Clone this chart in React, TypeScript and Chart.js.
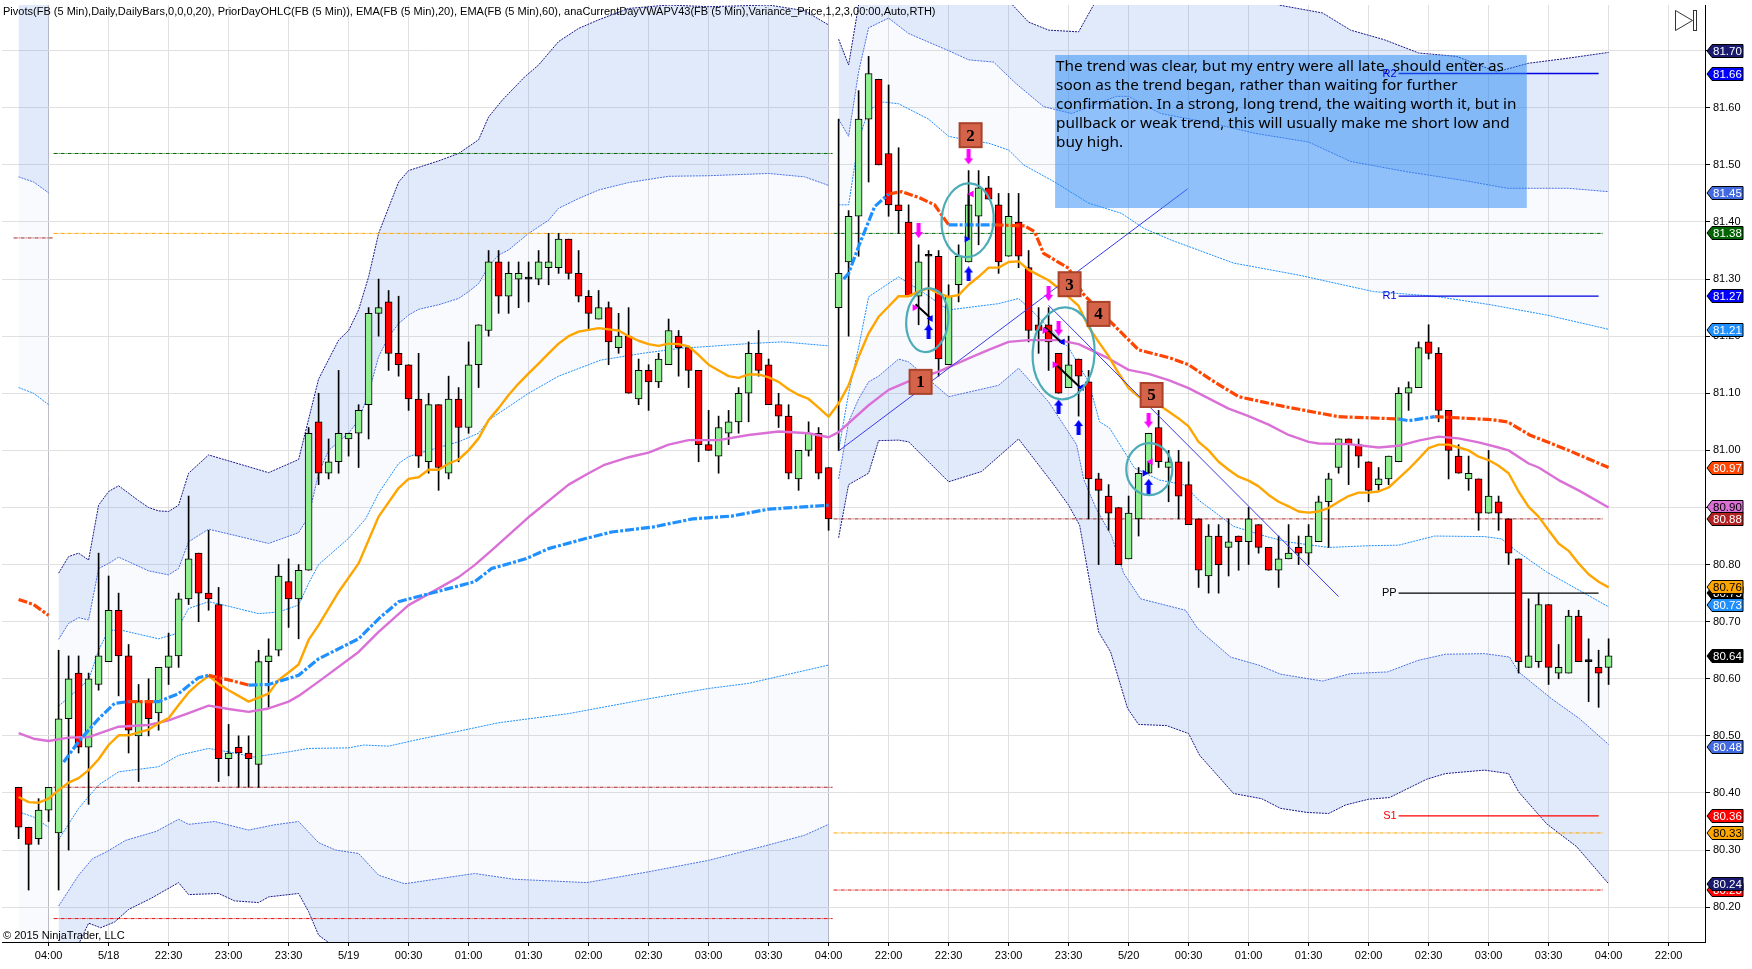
import React, { useEffect, useRef } from "react";
import { Chart, registerables } from "chart.js";

Chart.register(...registerables);

type P = [number, number | null];

const firstBar = -3;
const opens = [80.41,80.34,80.32,80.37,80.33,80.53,80.61,80.48,80.59,80.63,80.72,80.64,80.50,80.56,80.54,80.62,80.64,80.74,80.82,80.75,80.73,80.46,80.48,80.47,80.45,80.63,80.65,80.77,80.74,80.79,81.05,80.96,80.98,81.02,81.03,81.08,81.24,81.26,81.17,81.15,81.09,80.98,81.08,80.96,81.09,81.04,81.15,81.21,81.33,81.27,81.30,81.30,81.30,81.32,81.32,81.37,81.31,81.27,81.23,81.25,81.18,81.20,81.09,81.14,81.12,81.15,81.20,81.18,81.14,81.01,80.99,81.03,81.05,81.10,81.17,81.15,81.08,81.06,80.95,81.00,81.03,80.97,81.25,81.33,81.41,81.58,81.65,81.52,81.43,81.40,81.27,81.34,81.34,81.15,81.29,81.33,81.41,81.46,81.43,81.34,81.40,81.32,81.22,81.22,81.17,81.11,81.16,81.12,80.95,80.92,80.90,80.81,80.88,80.96,81.04,80.97,80.98,80.94,80.88,80.78,80.85,80.83,80.85,80.84,80.87,80.83,80.79,80.81,80.83,80.82,80.84,80.91,80.97,81.02,81.01,80.98,80.94,80.95,80.98,81.10,81.11,81.19,81.17,81.07,80.99,80.95,80.95,80.89,80.91,80.88,80.81,80.62,80.63,80.73,80.61,80.61,80.71,80.63,80.62,80.62];
const closes = [80.34,80.31,80.37,80.41,80.53,80.60,80.48,80.60,80.64,80.72,80.64,80.51,80.56,80.53,80.62,80.64,80.74,80.81,80.75,80.74,80.46,80.47,80.47,80.46,80.63,80.64,80.78,80.74,80.79,81.03,80.96,80.98,81.03,81.03,81.07,81.24,81.25,81.17,81.15,81.09,80.99,81.08,80.97,81.09,81.04,81.15,81.22,81.33,81.27,81.31,81.31,81.30,81.33,81.33,81.37,81.31,81.27,81.24,81.25,81.19,81.20,81.10,81.14,81.12,81.16,81.21,81.18,81.14,81.01,81.00,81.04,81.05,81.10,81.17,81.14,81.08,81.06,80.96,81.00,81.03,80.96,80.88,81.31,81.41,81.58,81.66,81.50,81.43,81.42,81.27,81.33,81.34,81.16,81.27,81.34,81.43,81.46,81.44,81.33,81.41,81.34,81.21,81.21,81.19,81.10,81.15,81.13,80.95,80.93,80.89,80.80,80.89,80.96,81.03,80.98,80.98,80.92,80.87,80.79,80.85,80.80,80.84,80.84,80.88,80.83,80.79,80.81,80.82,80.82,80.85,80.91,80.95,81.02,81.01,80.99,80.93,80.95,80.99,81.10,81.11,81.18,81.17,81.07,81.00,80.96,80.96,80.89,80.92,80.89,80.82,80.63,80.64,80.73,80.62,80.62,80.71,80.63,80.63,80.61,80.64];
const highs = [80.41,80.34,80.39,80.41,80.65,80.64,80.64,80.61,80.82,80.78,80.75,80.66,80.59,80.60,80.62,80.68,80.75,80.92,80.82,80.86,80.76,80.52,80.50,80.50,80.65,80.67,80.80,80.81,80.80,81.04,81.10,81.02,81.14,81.03,81.08,81.25,81.30,81.28,81.27,81.15,81.17,81.10,81.08,81.13,81.11,81.19,81.22,81.35,81.35,81.33,81.33,81.33,81.35,81.38,81.38,81.37,81.35,81.28,81.28,81.26,81.24,81.25,81.16,81.15,81.17,81.23,81.21,81.18,81.14,81.07,81.06,81.07,81.11,81.19,81.21,81.16,81.10,81.08,81.00,81.05,81.04,80.97,81.58,81.42,81.63,81.69,81.65,81.64,81.53,81.43,81.36,81.35,81.35,81.29,81.36,81.49,81.49,81.48,81.45,81.45,81.45,81.35,81.25,81.25,81.17,81.20,81.16,81.14,80.96,80.94,80.90,80.92,80.97,81.03,81.07,81.00,81.00,80.98,80.88,80.87,80.87,80.88,80.85,80.90,80.87,80.83,80.85,80.87,80.85,80.87,80.92,80.96,81.02,81.02,81.02,80.98,80.97,80.99,81.11,81.12,81.19,81.22,81.18,81.07,81.01,80.99,80.95,81.00,80.92,80.88,80.81,80.74,80.75,80.73,80.66,80.72,80.72,80.67,80.65,80.67];
const lows = [80.32,80.23,80.31,80.35,80.23,80.30,80.47,80.38,80.58,80.63,80.57,80.47,80.42,80.50,80.51,80.59,80.62,80.73,80.70,80.72,80.42,80.43,80.41,80.41,80.41,80.55,80.64,80.69,80.67,80.79,80.94,80.95,80.96,80.99,80.97,81.02,81.20,81.14,81.13,81.07,80.97,80.96,80.93,80.95,80.98,81.03,81.11,81.20,81.24,81.24,81.25,81.26,81.29,81.29,81.31,81.30,81.26,81.21,81.23,81.15,81.17,81.10,81.08,81.07,81.11,81.15,81.13,81.11,80.98,81.00,80.96,81.01,81.03,81.05,81.13,81.08,81.04,80.95,80.93,80.99,80.95,80.86,81.00,81.20,81.34,81.47,81.50,81.41,81.38,81.27,81.22,81.21,81.13,81.15,81.26,81.33,81.36,81.44,81.31,81.34,81.32,81.19,81.17,81.14,81.10,81.11,81.06,80.88,80.80,80.86,80.80,80.81,80.85,80.96,80.97,80.91,80.88,80.87,80.76,80.75,80.75,80.78,80.79,80.80,80.82,80.79,80.76,80.81,80.80,80.80,80.84,80.83,80.96,80.94,80.97,80.91,80.93,80.94,80.98,81.07,81.11,81.16,81.05,80.95,80.96,80.93,80.86,80.89,80.86,80.80,80.61,80.62,80.62,80.59,80.60,80.61,80.63,80.56,80.55,80.59];

const xLabels = ["04:00","5/18","22:30","23:00","23:30","5/19","00:30","01:00","01:30","02:00","02:30","03:00","03:30","04:00","22:00","22:30","23:00","23:30","5/20","00:30","01:00","01:30","02:00","02:30","03:00","03:30","04:00","22:00"];
const yTicks = [80.2,80.3,80.4,80.5,80.6,80.7,80.8,80.9,81.0,81.1,81.2,81.3,81.4,81.5,81.6,81.7];

const ema20: P[] = [[-3,80.393],[-2,80.384],[-1,80.383],[0,80.39],[1,80.405],[2,80.418],[3,80.426],[4,80.44],[5,80.459],[6,80.484],[7,80.501],[8,80.501],[9,80.506],[10,80.511],[11,80.522],[12,80.531],[13,80.554],[14,80.576],[15,80.592],[16,80.605],[17,80.591],[18,80.58],[19,80.57],[20,80.56],[21,80.567],[22,80.574],[23,80.598],[24,80.611],[25,80.625],[26,80.668],[27,80.694],[29,80.752],[31,80.802],[33,80.884],[35,80.934],[36,80.95],[37,80.953],[38,80.966],[39,80.966],[40,80.977],[41,80.984],[42,81.0],[43,81.021],[44,81.053],[45,81.074],[46,81.097],[47,81.117],[48,81.135],[49,81.152],[50,81.17],[51,81.187],[52,81.2],[53,81.208],[54,81.211],[55,81.214],[56,81.212],[57,81.21],[58,81.2],[59,81.192],[60,81.186],[61,81.183],[62,81.187],[63,81.186],[64,81.182],[65,81.167],[66,81.15],[67,81.14],[68,81.13],[69,81.127],[70,81.133],[71,81.133],[72,81.128],[73,81.12],[74,81.107],[75,81.097],[76,81.09],[77,81.075],[78,81.059],[79,81.082],[80,81.114],[81,81.164],[82,81.205],[83,81.234],[84,81.252],[85,81.27],[86,81.27],[87,81.278],[88,81.284],[89,81.275],[90,81.269],[91,81.272],[92,81.29],[93,81.304],[94,81.32],[95,81.32],[96,81.33],[97,81.331],[98,81.316],[99,81.307],[100,81.298],[101,81.284],[102,81.269],[103,81.253],[104,81.216],[105,81.19],[106,81.165],[107,81.135],[108,81.109],[109,81.094],[111,81.08],[112,81.068],[113,81.056],[114,81.042],[115,81.015],[116,81.0],[117,80.98],[118,80.966],[119,80.954],[120,80.947],[121,80.937],[122,80.922],[123,80.91],[124,80.902],[125,80.893],[126,80.891],[127,80.893],[128,80.899],[129,80.91],[130,80.92],[131,80.926],[132,80.926],[133,80.928],[134,80.935],[135,80.951],[136,80.967],[137,80.985],[138,81.004],[139,81.01],[140,81.01],[141,81.005],[142,81.0],[143,80.989],[144,80.983],[145,80.973],[146,80.96],[147,80.928],[148,80.901],[149,80.884],[150,80.86],[151,80.837],[152,80.824],[153,80.802],[154,80.783],[155,80.77],[156,80.76]];
const ema60: P[] = [[-3,80.505],[-1.5,80.495],[0,80.491],[2,80.497],[4,80.498],[5,80.504],[7,80.516],[10,80.519],[12,80.527],[14,80.54],[16,80.553],[18,80.547],[20,80.542],[22,80.548],[24,80.56],[25,80.57],[27,80.595],[31,80.647],[33,80.682],[36,80.729],[41,80.778],[42.6,80.799],[44.3,80.825],[48.2,80.886],[52,80.94],[54,80.96],[55.5,80.974],[58,80.988],[60,80.996],[62,81.01],[64,81.018],[67,81.018],[70,81.027],[73,81.033],[76,81.03],[78,81.023],[79,81.032],[82,81.079],[84,81.106],[86,81.121],[89,81.138],[92,81.161],[94,81.176],[96,81.19],[98,81.193],[101,81.193],[103,81.186],[106,81.161],[108,81.141],[110,81.134],[112,81.123],[114,81.109],[116,81.091],[118,81.073],[120,81.06],[122,81.045],[124,81.027],[126,81.015],[127,81.012],[130,81.011],[133,81.005],[135,81.008],[137,81.017],[139,81.024],[141,81.021],[143,81.014],[145,81.005],[146,81.0],[148,80.977],[149,80.97],[151,80.948],[153,80.93],[156,80.90]];

const vwapBlue: P[] = [[1.5,80.454],[3,80.49],[5,80.53],[6.6,80.557],[8,80.56],[8.01,null],[10.5,80.56],[11,80.56],[13,80.574],[15,80.602],[16,80.606],[16.01,null],[20,80.589],[22,80.59],[25,80.606],[27,80.635],[31,80.67],[33,80.705],[35,80.735],[38.7,80.752],[42.6,80.77],[44.3,80.793],[47.7,80.81],[50,80.828],[53.8,80.846],[56.3,80.857],[60.5,80.866],[64.4,80.88],[68.3,80.885],[72,80.897],[78,80.904],[78.5,null],[79.5,81.30],[80,81.31],[81,81.357],[82.6,81.427],[84,81.449],[84.01,null],[90,81.395],[92.6,81.395],[94.6,81.395],[94.61,null],[135,81.055],[136,81.052],[138.6,81.059],[138.61,null]];
const vwapOrange: P[] = [[-3,80.739],[-1.5,80.73],[0,80.711],[0.5,null],[8,80.56],[10.5,80.56],[10.51,null],[16,80.606],[18,80.598],[20,80.589],[20.01,null],[84,81.449],[85.3,81.453],[87,81.443],[88.6,81.43],[90,81.395],[90.01,null],[94.6,81.395],[97.6,81.393],[98.6,81.383],[99.5,81.345],[102,81.319],[103.4,81.275],[106.2,81.225],[109,81.176],[112.3,81.161],[114,81.15],[116.3,81.123],[119,81.094],[123.5,81.077],[129,81.059],[135,81.055],[135.01,null],[138.6,81.059],[144.2,81.054],[145.9,81.05],[148.1,81.027],[152,81.00],[156,80.97]];

const day0Upper3: P[] = [[-3,81.95],[0,81.95]];
const day0Upper2: P[] = [[-3,81.479],[-1.5,81.47],[0,81.451]];
const day0Upper1: P[] = [[-3,81.11],[-1.5,81.10],[0,81.08]];
const day0Lower1: P[] = [[-3,80.367],[-1.5,80.358],[0,80.34]];
const day0Lower2: P[] = [[-3,79.95],[0,79.95]];

const day1Upper3: P[] = [[1,80.785],[2,80.814],[3,80.82],[4,80.808],[5,80.904],[6,80.928],[7,80.938],[8,80.925],[9,80.912],[10,80.90],[11,80.894],[12,80.893],[13,80.904],[14,80.96],[16,80.992],[22,80.961],[25,80.984],[27,81.125],[29,81.193],[30,81.21],[31,81.246],[32,81.304],[33,81.38],[35,81.47],[36,81.49],[39,81.507],[41,81.52],[43,81.544],[44,81.584],[45.4,81.614],[47.6,81.654],[49,81.675],[51,81.716],[53,81.739],[55,81.754],[58,81.774],[62,81.78],[66,81.777],[72,81.78],[75.6,81.77],[78,81.745]];
const day1Upper2: P[] = [[1,80.669],[2,80.697],[3,80.707],[4,80.703],[5,80.793],[6,80.802],[7,80.813],[8,80.805],[10,80.789],[12,80.782],[13,80.793],[14,80.84],[16,80.862],[22,80.837],[25,80.856],[26,80.884],[27,80.96],[28,81.0],[30,81.03],[31,81.053],[32,81.10],[33,81.164],[34,81.199],[35,81.222],[36,81.237],[37,81.247],[39,81.255],[41,81.266],[42,81.278],[43,81.292],[44,81.322],[45,81.342],[46,81.351],[48,81.38],[50,81.403],[51,81.424],[53,81.441],[55,81.456],[58,81.469],[62,81.48],[66,81.481],[72,81.485],[75.6,81.479],[78,81.464]];
const day1Upper1: P[] = [[1,80.552],[4,80.598],[5,80.65],[6,80.685],[7.3,80.685],[9,80.678],[11,80.67],[12.6,80.678],[14,80.723],[16,80.735],[18,80.727],[21,80.714],[23,80.717],[25,80.729],[26,80.767],[27,80.80],[30,80.846],[31.7,80.88],[33,80.925],[35,80.977],[36,80.989],[38,81.0],[41,81.015],[43,81.03],[44,81.053],[48,81.10],[51,81.13],[55.2,81.158],[59.4,81.17],[63.3,81.179],[66,81.182],[70,81.187],[73.4,81.19],[78,81.183]];
const day1Lower1: P[] = [[1,80.318],[3,80.373],[5,80.414],[7,80.437],[11,80.446],[13,80.466],[16,80.478],[18,80.472],[20.5,80.463],[24,80.472],[26,80.478],[30,80.479],[31.5,80.484],[34,80.482],[36.5,80.492],[41.5,80.51],[45,80.523],[52,80.539],[60,80.565],[66,80.583],[70,80.592],[78,80.624]];
const day1Lower2: P[] = [[1,80.202],[3,80.256],[4.4,80.285],[5.8,80.297],[7.7,80.317],[10.8,80.333],[13,80.354],[14,80.345],[16.6,80.35],[20,80.335],[22.5,80.344],[25,80.35],[27,80.313],[28.7,80.30],[31,80.294],[33,80.256],[35.6,80.241],[42.6,80.259],[46.5,80.249],[53.8,80.243],[60,80.262],[66,80.282],[72,80.309],[75.6,80.326],[78,80.345]];
const day1Lower3: P[] = [[1,80.03],[3,80.135],[4,80.172],[5.2,80.164],[6.6,80.174],[8,80.196],[10.2,80.215],[13,80.243],[14,80.222],[17,80.224],[18.6,80.211],[21,80.208],[22,80.218],[25,80.224],[26,80.192],[27,80.151],[28,80.138],[30,79.95],[78,79.95]];

const day2Upper3: P[] = [[79,81.72],[80,81.675],[81,81.78],[82,81.9],[95,81.9],[96.4,81.78],[98,81.75],[100,81.736],[103,81.733],[104.5,81.78],[106,81.9],[121,81.9],[123,81.78],[127.4,81.766],[130.2,81.736],[133.6,81.719],[137,81.696],[140.8,81.69],[144.8,81.663],[148,81.678],[152,81.687],[156,81.697]];
const day2Upper2: P[] = [[79,81.58],[80,81.55],[81,81.663],[82,81.74],[84,81.757],[86,81.73],[90,81.70],[92,81.684],[94.5,81.68],[96.7,81.643],[99.5,81.602],[102.3,81.59],[106.8,81.62],[108,81.62],[111.2,81.59],[116.3,81.573],[120.7,81.555],[126,81.54],[130.2,81.506],[135.8,81.488],[141.4,81.473],[145.9,81.459],[152,81.459],[156,81.453]];
const day2Upper1: P[] = [[79,81.43],[80,81.43],[81,81.543],[82,81.596],[83.5,81.61],[85,81.607],[88,81.58],[90,81.55],[92,81.543],[94,81.538],[96,81.526],[97.5,81.50],[100.6,81.47],[104,81.433],[107.3,81.415],[109.5,81.389],[112.3,81.368],[118.5,81.328],[125,81.307],[132.5,81.278],[138.6,81.27],[144.2,81.255],[149.8,81.237],[156,81.212]];
const day2Lower1: P[] = [[79,81.0],[80,81.10],[81,81.18],[82,81.269],[85,81.304],[87.6,81.275],[90,81.246],[95,81.257],[97,81.266],[98.3,81.245],[100.6,81.205],[102,81.18],[104,81.12],[105.1,81.05],[106.1,81.039],[108.6,80.969],[111.1,80.948],[113.5,80.94],[115,80.913],[118.5,80.867],[121.8,80.849],[123.8,80.84],[128,80.83],[132,80.833],[135,80.834],[138.6,80.85],[143.6,80.849],[145.3,80.845],[146.7,80.825],[149.8,80.787],[156,80.726]];
const day2Lower2: P[] = [[79,80.95],[80,81.05],[81,81.09],[82,81.12],[83,81.13],[85,81.16],[86,81.155],[90,81.094],[95,81.114],[97,81.144],[100,81.085],[102.8,81.01],[103.5,80.95],[104.7,80.90],[106.3,80.85],[107.5,80.785],[109.2,80.74],[113.7,80.72],[114.9,80.688],[118.2,80.638],[121,80.624],[123.2,80.608],[127.4,80.596],[130.2,80.609],[133.9,80.612],[136.9,80.632],[139.7,80.643],[143.6,80.644],[146.1,80.638],[147,80.612],[150.3,80.565],[153.1,80.53],[156,80.485]];
const day2Lower3: P[] = [[79,80.847],[80,80.94],[81,80.95],[82,80.96],[83,81.017],[85,81.018],[86,81.015],[90,80.945],[93.3,80.963],[97,81.02],[100.3,80.945],[102,80.904],[103.1,80.869],[105,80.682],[106.2,80.647],[107.9,80.548],[109,80.52],[111.8,80.518],[114,80.504],[115.1,80.466],[118.5,80.399],[121.3,80.39],[123.2,80.373],[125.8,80.366],[128,80.364],[129.7,80.379],[132,80.389],[134.1,80.392],[137.8,80.424],[139.7,80.434],[143.6,80.44],[146,80.434],[147,80.402],[149.8,80.346],[152.8,80.306],[156,80.241]];

const levelRows: { pts: P[]; color: string }[] = [
  { pts: [[-3.5,81.372],[0.5,81.372]], color: "#a52a2a" },
  { pts: [[0.5,81.52],[78.4,81.52]], color: "#006400" },
  { pts: [[0.5,81.38],[78.4,81.38]], color: "#ffa500" },
  { pts: [[0.5,80.41],[78.4,80.41]], color: "#b22222" },
  { pts: [[0.5,80.18],[78.4,80.18]], color: "#e01010" },
  { pts: [[78.5,81.38],[155.4,81.38]], color: "#006400" },
  { pts: [[78.5,80.88],[155.4,80.88]], color: "#a52a2a" },
  { pts: [[78.5,80.33],[155.4,80.33]], color: "#ffa500" },
  { pts: [[78.5,80.23],[155.4,80.23]], color: "#e01010" },
];
const pivotRows = [
  { name: "R2", value: 81.66, color: "#0000e0" },
  { name: "R1", value: 81.27, color: "#0000e0" },
  { name: "PP", value: 80.75, color: "#000000" },
  { name: "S1", value: 80.36, color: "#ff0000" },
];
const trendLines: P[][] = [
  [[79,80.999],[113.9,81.458]],
  [[100,81.254],[129,80.744]],
];
const tradeLines: P[][] = [
  [[86.7,81.256],[88.25,81.231]],
  [[99.6,81.216],[101.4,81.187]],
  [[100.8,81.149],[103.3,81.108]],
  [[92,81.45],[92,81.37]],
  [[110,80.98],[110,80.96]],
];
const pinkDown: P[] = [[92,81.514],[87,81.385],[100,81.275],[101,81.214],[110,81.053]];
const blueUp: P[] = [[92,81.309],[88,81.208],[101,81.076],[103,81.04],[110,80.937]];
const pinkRight: P[] = [[86.6,81.25],[99.6,81.21],[100.6,81.15]];
const pinkLeft: P[] = [[92.3,81.449],[110.2,80.98]];
const blueLeft: P[] = [[88.2,81.231],[101.4,81.19],[103.3,81.11]];
const blueRight: P[] = [[91.8,81.37],[109.6,80.96]];

const badgeText = ["1","2","3","4","5"];
const badgeX = [87.2,92.2,102.1,105,110.3];
const badgeY = [81.12,81.552,81.291,81.239,81.097];

const ringX = [87.87,91.9,101.5,110.07];
const ringY = [81.228,81.403,81.17,80.967];
const ringRx = [21,26,31,23];
const ringRy = [32,37,46,26];
const ringTilt = [0.1,0.07,0.05,0];

const tagValues = [81.70,81.66,81.45,81.38,81.27,81.21,80.97,80.90,80.88,80.75,80.76,80.73,80.64,80.48,80.36,80.33,80.23,80.24];
const tagFill = ["#191970","#0000ff","#4169e1","#006400","#0000ff","#1e90ff","#ff4500","#da70d6","#b22222","#000000","#ffa500","#1e90ff","#000000","#4169e1","#ff0000","#ffa500","#ff0000","#191970"];
const tagInk = ["#fff","#fff","#fff","#fff","#fff","#fff","#fff","#000","#fff","#fff","#000","#fff","#fff","#fff","#fff","#000","#fff","#fff"];

const titleText = "Pivots(FB (5 Min),Daily,DailyBars,0,0,0,20), PriorDayOHLC(FB (5 Min)), EMA(FB (5 Min),20), EMA(FB (5 Min),60), anaCurrentDayVWAPV43(FB (5 Min),Variance_Price,1,2,3,00:00,Auto,RTH)";
const copyrightText = "© 2015 NinjaTrader, LLC";
const noteLines = [
  "The trend was clear, but my entry were all late, should enter as",
  "soon as the trend began, rather than waiting for further",
  "confirmation. In a strong, long trend, the waiting worth it, but in",
  "pullback or weak trend, this will usually make me short low and",
  "buy high.",
];
const noteCorners = { x1: 100.65, x2: 147.82 };

const DARK_FILL = "rgba(80,130,230,0.17)";
const PALE_FILL = "rgba(80,130,230,0.04)";
const NAVY = "#191987";
const ROYAL = "#4a6fe3";
const SKY = "#1e90ff";
const sans = '"Liberation Sans", Arial, sans-serif';

const toPts = (a: P[]) => a.map(([x, y]) => ({ x, y }));

function arrowImage(color: string, down: boolean) {
  const c = document.createElement("canvas");
  c.width = 9;
  c.height = 15;
  const g = c.getContext("2d")!;
  g.fillStyle = color;
  g.beginPath();
  if (down) {
    g.moveTo(2.5, 0); g.lineTo(6.5, 0); g.lineTo(6.5, 9); g.lineTo(9, 9); g.lineTo(4.5, 15); g.lineTo(0, 9); g.lineTo(2.5, 9);
  } else {
    g.moveTo(2.5, 15); g.lineTo(6.5, 15); g.lineTo(6.5, 6); g.lineTo(9, 6); g.lineTo(4.5, 0); g.lineTo(0, 6); g.lineTo(2.5, 6);
  }
  g.closePath();
  g.fill();
  return c;
}

const overlay = {
  id: "overlay",
  afterDatasetsDraw(chart: any) {
    const { ctx, scales, chartArea } = chart;
    const X = scales.x;
    const Y = scales.y;
    ctx.save();

    // text box
    const bx1 = X.getPixelForValue(noteCorners.x1);
    const bx2 = X.getPixelForValue(noteCorners.x2);
    ctx.fillStyle = "rgba(40,135,245,0.5)";
    ctx.fillRect(bx1, 55, bx2 - bx1, 153);
    ctx.fillStyle = "#000";
    ctx.font = '15.3px "Noto Sans", sans-serif';
    ctx.textAlign = "left";
    ctx.textBaseline = "middle";
    noteLines.forEach((t, i) => ctx.fillText(t, bx1 + 1, 67 + i * 19));

    // rings
    ctx.strokeStyle = "#4bacb8";
    ctx.lineWidth = 2.2;
    ringX.forEach((v, i) => {
      ctx.beginPath();
      ctx.ellipse(X.getPixelForValue(v), Y.getPixelForValue(ringY[i]), ringRx[i], ringRy[i], ringTilt[i], 0, Math.PI * 2);
      ctx.stroke();
    });

    // numbered squares
    badgeText.forEach((t, i) => {
      const cx = X.getPixelForValue(badgeX[i]);
      const cy = Y.getPixelForValue(badgeY[i]);
      ctx.fillStyle = "#d4634a";
      ctx.strokeStyle = "#a8432a";
      ctx.lineWidth = 2;
      ctx.fillRect(cx - 11, cy - 12, 22, 24);
      ctx.strokeRect(cx - 11, cy - 12, 22, 24);
      ctx.fillStyle = "#000";
      ctx.font = 'bold 17px "Liberation Serif", serif';
      ctx.textAlign = "center";
      ctx.textBaseline = "middle";
      ctx.fillText(t, cx, cy + 1);
    });

    // pivot names
    ctx.font = `11px ${sans}`;
    ctx.textAlign = "right";
    ctx.textBaseline = "middle";
    pivotRows.forEach((p) => {
      ctx.fillStyle = p.color;
      ctx.fillText(p.name, X.getPixelForValue(134.8), Y.getPixelForValue(p.value));
    });

    // price tags
    const edge = chartArea.right;
    ctx.font = `11.5px ${sans}`;
    ctx.textAlign = "left";
    tagValues.forEach((v, i) => {
      const y = Math.round(Y.getPixelForValue(v));
      ctx.beginPath();
      ctx.moveTo(edge + 2, y);
      ctx.lineTo(edge + 7, y - 6.5);
      ctx.lineTo(edge + 38, y - 6.5);
      ctx.lineTo(edge + 38, y + 6.5);
      ctx.lineTo(edge + 7, y + 6.5);
      ctx.closePath();
      ctx.fillStyle = tagFill[i];
      ctx.fill();
      ctx.strokeStyle = "#000";
      ctx.lineWidth = 1;
      ctx.stroke();
      ctx.fillStyle = tagInk[i];
      ctx.fillText(v.toFixed(2), edge + 8, y + 0.5);
    });

    // title, copyright and the end-of-chart icon
    ctx.fillStyle = "#000";
    ctx.font = `11.03px ${sans}`;
    ctx.textAlign = "left";
    ctx.textBaseline = "middle";
    ctx.fillText(titleText, 3, 12);
    ctx.fillText(copyrightText, 3, 936);
    ctx.strokeStyle = "#333";
    ctx.lineWidth = 1;
    ctx.beginPath();
    ctx.moveTo(1675.5, 10.5);
    ctx.lineTo(1692.5, 20.5);
    ctx.lineTo(1675.5, 30.5);
    ctx.closePath();
    ctx.stroke();
    ctx.strokeRect(1693.5, 10.5, 3, 20);
    ctx.restore();
  },
};

export default function App() {
  const ref = useRef<HTMLCanvasElement | null>(null);
  useEffect(() => {
    document.body.style.margin = "0";
    document.body.style.background = "#fff";
    const bodies = opens.map((o, i) => ({ x: firstBar + i, y: [o, closes[i]] }));
    const wicks = lows.map((l, i) => ({ x: firstBar + i, y: [l, highs[i]] }));

    const datasets: any[] = [];
    const bandLine = (pts: P[], color: string | null, fillTo: number | null, fillColor: string) => {
      datasets.push({
        type: "line",
        data: toPts(pts),
        borderColor: color ?? "transparent",
        borderWidth: color ? 1 : 0,
        borderDash: [2, 1],
        pointRadius: 0,
        tension: 0,
        order: 30,
        fill: fillTo === null ? false : fillTo,
        backgroundColor: fillColor,
      });
      return datasets.length - 1;
    };
    const band = (
      rows: [P[], string | null, number | null][],
    ) => {
      // rows run from the outside in; each row fills toward the following index
      rows.forEach(([pts, color, kind]) => {
        const idx = datasets.length;
        bandLine(pts, color, kind === null ? null : idx + 1, kind === 1 ? DARK_FILL : PALE_FILL);
      });
    };
    band([
      [day0Upper3, null, 1],
      [day0Upper2, ROYAL, 0],
      [day0Upper1, SKY, null],
      [day0Lower2, null, 0],
      [day0Lower1, SKY, null],
    ]);
    band([
      [day1Upper3, NAVY, 1],
      [day1Upper2, ROYAL, 0],
      [day1Upper1, SKY, null],
      [day1Lower3, NAVY, 1],
      [day1Lower2, ROYAL, 0],
      [day1Lower1, SKY, null],
    ]);
    band([
      [day2Upper3, NAVY, 1],
      [day2Upper2, ROYAL, 0],
      [day2Upper1, SKY, null],
      [day2Lower3, NAVY, 1],
      [day2Lower2, ROYAL, 0],
      [day2Lower1, SKY, null],
    ]);

    const plainLine = (pts: P[], color: string, width: number, order: number, extra: any = {}) => {
      datasets.push({
        type: "line",
        data: toPts(pts),
        borderColor: color,
        borderWidth: width,
        pointRadius: 0,
        tension: 0,
        fill: false,
        order,
        ...extra,
      });
    };
    levelRows.forEach((l) => plainLine(l.pts, l.color, 1, 25, { borderDash: [4, 1, 1, 1] }));
    pivotRows.forEach((p) => plainLine([[135, p.value],[155, p.value]], p.color, 1.3, 25));

    datasets.push({
      type: "bar",
      data: wicks,
      grouped: false,
      barThickness: 1,
      backgroundColor: "#000",
      borderWidth: 0,
      order: 20,
    });
    datasets.push({
      type: "bar",
      data: bodies,
      grouped: false,
      barThickness: 7,
      minBarLength: 2,
      backgroundColor: opens.map((o, i) => (closes[i] > o ? "#90ee90" : closes[i] < o ? "#ff0000" : "#000")),
      borderColor: "#000",
      borderWidth: 1,
      borderSkipped: false,
      order: 19,
    });

    plainLine(ema60, "#da70d6", 2.4, 11, { borderJoinStyle: "round" });
    plainLine(ema20, "#ffa500", 2.4, 10, { borderJoinStyle: "round" });
    plainLine(vwapBlue, "#1e90ff", 3.2, 9, { borderDash: [9, 2, 3, 2], spanGaps: false });
    plainLine(vwapOrange, "#ff4500", 3.2, 9, { borderDash: [9, 2, 3, 2], spanGaps: false });

    trendLines.forEach((t) => plainLine(t, "#3a3ae6", 1, 6));
    tradeLines.forEach((t) => plainLine(t, "#000", 2, 4));

    const marks = (pts: P[], style: any, color: string, rotation: number, radius: number) => {
      datasets.push({
        type: "line",
        data: toPts(pts),
        showLine: false,
        pointStyle: style,
        pointRadius: radius,
        pointRotation: rotation,
        pointBackgroundColor: color,
        pointBorderColor: color,
        pointBorderWidth: 0,
        order: 3,
      });
    };
    marks(pinkDown, arrowImage("#ff00ff", true), "#ff00ff", 0, 6);
    marks(blueUp, arrowImage("#0000ff", false), "#0000ff", 0, 6);
    marks(pinkRight, "triangle", "#ff00ff", 90, 4);
    marks(pinkLeft, "triangle", "#ff00ff", -90, 4);
    marks(blueLeft, "triangle", "#0000ff", -90, 4);
    marks(blueRight, "triangle", "#0000ff", 90, 4);

    const textColor = "#000";
    const chart = new Chart(ref.current as HTMLCanvasElement, {
      type: "bar",
      data: { datasets },
      plugins: [overlay],
      options: {
        animation: false,
        responsive: false,
        devicePixelRatio: 1,
        layout: { autoPadding: false, padding: { left: 2, top: 5, right: 0, bottom: 0 } },
        plugins: { legend: { display: false }, tooltip: { enabled: false }, title: { display: false } },
        scales: {
          x: {
            type: "linear",
            offset: false,
            min: -4.66,
            max: 165.64,
            afterBuildTicks: (s: any) => {
              s.ticks = xLabels.map((_, i) => ({ value: i * 6 }));
            },
            afterFit: (s: any) => {
              s.height = 27;
              s.paddingLeft = 0;
              s.paddingRight = 0;
            },
            border: { display: true, color: "#000", width: 1 },
            grid: {
              offset: false,
              drawTicks: true,
              tickLength: 4,
              tickColor: "#000",
              lineWidth: 1,
              color: (c: any) => (c.tick && (c.tick.value === 0 || c.tick.value === 78) ? "#bdbdc4" : "#e0e0e0"),
            },
            ticks: {
              autoSkip: false,
              maxRotation: 0,
              minRotation: 0,
              padding: 3,
              color: textColor,
              font: { family: "Liberation Sans", size: 11 },
              callback: (_: any, i: number) => xLabels[i],
            },
          },
          y: {
            type: "linear",
            position: "right",
            beginAtZero: false,
            min: 80.139,
            max: 81.78,
            afterBuildTicks: (s: any) => {
              s.ticks = yTicks.map((v) => ({ value: v }));
            },
            afterFit: (s: any) => {
              s.width = 47;
              s.paddingTop = 0;
              s.paddingBottom = 0;
            },
            border: { display: true, color: "#000", width: 1 },
            grid: { drawTicks: true, tickLength: 5, tickColor: "#000", color: "#e0e0e0", lineWidth: 1 },
            ticks: {
              padding: 3,
              color: textColor,
              font: { family: "Liberation Sans", size: 11 },
              callback: (v: any) => Number(v).toFixed(2),
            },
          },
        },
      },
    } as any);
    return () => chart.destroy();
  }, []);
  return (
    <div style={{ position: "absolute", left: 0, top: 0, width: 1752, height: 969, background: "#fff" }}>
      <canvas ref={ref} width={1752} height={969} style={{ display: "block", width: 1752, height: 969 }} />
    </div>
  );
}
